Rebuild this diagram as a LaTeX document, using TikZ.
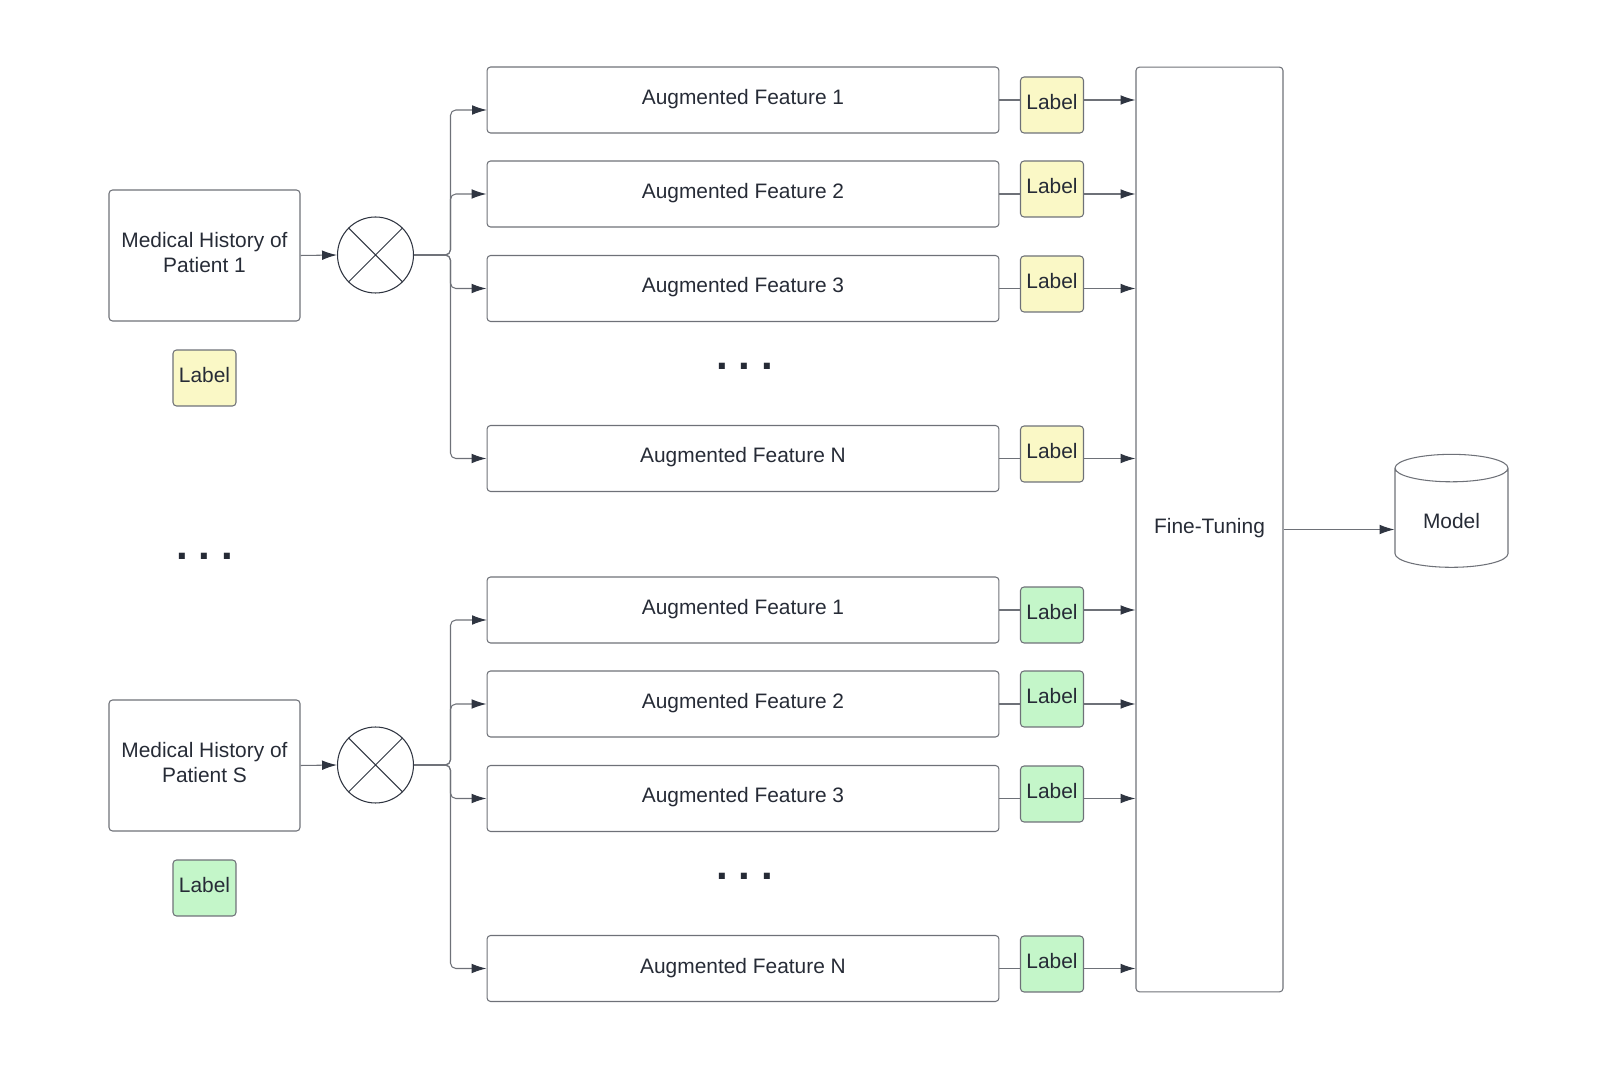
\documentclass[tikz,border=0pt]{standalone}
\usepackage{fontspec}
\setmainfont{Liberation Sans}
\usepackage{xcolor}
\usepackage{tikz}
\usetikzlibrary{
    positioning, % relative placement
    arrows.meta, % arrow tips
    shapes.geometric % cylinder
}
\definecolor{linec}{HTML}{6E7178}
\definecolor{tipc}{HTML}{2F3541}
\definecolor{textc}{HTML}{262B36}
\definecolor{yelc}{HTML}{FAF8C6}
\definecolor{grnc}{HTML}{C4F6C9}
\tikzset{
  >={Latex[length=8.5pt,width=5.5pt,color=tipc]},
  every path/.style={line width=0.6pt},
  box/.style={draw=linec, rounded corners=2pt, text=textc, align=center,
              text depth=0.35em, font=\fontsize{11.9}{14.5}\selectfont},
  histbox/.style={box, minimum width=3.82cm, minimum height=2.62cm},
  augbox/.style={box, minimum width=10.24cm, minimum height=1.32cm},
  tagbox/.style={box, minimum width=1.26cm, minimum height=1.12cm, inner sep=1pt},
  mixer/.style={circle, draw=tipc, minimum size=1.52cm},
  gap/.style={text=textc, font=\fontsize{24}{24}\bfseries\selectfont, inner sep=0pt},
  conn/.style={draw=linec, ->},
  branch/.style={conn, rounded corners=3pt}
}

\begin{document}
\begin{tikzpicture}[x=0.02cm, y=-0.02cm]
  \useasboundingbox (0,0) rectangle (1600,1070);

  % ===================== TRAINING SIDE =====================
  \node[box, minimum width=2.94cm, minimum height=18.5cm] (ft) at (1209.5,529.5) {Fine-Tuning};
  \node[cylinder, shape border rotate=90, aspect=0.4, draw=linec, text=textc,
        minimum width=2.26cm, minimum height=2.26cm,
        font=\fontsize{11.9}{14.5}\selectfont] (md) at (1451.5,521) {Model};
  \draw[conn] (ft.east) -- (ft.east -| md.west);

  % ===================== PATIENT 1 =====================
  \begin{scope}[shift={(0,0)}]
    % source record and its label
    \node[histbox] (p1) at (204.5,255.5) {Medical History of\\Patient 1};
    \node[tagbox, fill=yelc] (t1) at (204.5,378) {Label};
    \node[mixer] (m1) at (375.5,255) {};
    \draw[draw=tipc] (m1.45) -- (m1.225) (m1.135) -- (m1.315);
    \draw[conn] (p1.east) -- (m1.west);

    % augmented copies
    \node[augbox] (a1) at (743,100)   {Augmented Feature 1};
    \node[augbox] (a2) at (743,194)   {Augmented Feature 2};
    \node[augbox] (a3) at (743,288.5) {Augmented Feature 3};
    \node[augbox] (aN) at (743,458.5) {Augmented Feature N};
    \node[gap] (g1) at (744.5,366) {.\hspace{0.215cm}.\hspace{0.215cm}.};
    \coordinate (a1in) at (487,110); % first arrow enters a bit low

    \draw[branch] (m1.east) -- ++(36.5,0) |- (a1in);
    \draw[branch] (m1.east) -- ++(36.5,0) |- (a2.west);
    \draw[branch] (m1.east) -- ++(36.5,0) |- (a3.west);
    \draw[branch] (m1.east) -- ++(36.5,0) |- (aN.west);

    % into fine-tuning, labels sit on the lines
    \draw[conn] (a1.east) -- (a1.east -| ft.west);
    \draw[conn] (a2.east) -- (a2.east -| ft.west);
    \draw[conn] (a3.east) -- (a3.east -| ft.west);
    \draw[conn] (aN.east) -- (aN.east -| ft.west);
    \node[tagbox, fill=yelc] (l1) at (1052,105) {Label};
    \node[tagbox, fill=yelc] (l2) at (1052,189) {Label};
    \node[tagbox, fill=yelc] (l3) at (1052,284) {Label};
    \node[tagbox, fill=yelc] (lN) at (1052,454) {Label};
  \end{scope}

  % dots between patients
  \node[gap] (g0) at (204.5,556) {.\hspace{0.215cm}.\hspace{0.215cm}.};

  % ===================== PATIENT S =====================
  \begin{scope}[shift={(0,510)}]
    % source record and its label
    \node[histbox] (pS) at (204.5,255.5) {Medical History of\\Patient S};
    \node[tagbox, fill=grnc] (tS) at (204.5,378) {Label};
    \node[mixer] (mS) at (375.5,255) {};
    \draw[draw=tipc] (mS.45) -- (mS.225) (mS.135) -- (mS.315);
    \draw[conn] (pS.east) -- (mS.west);

    % augmented copies
    \node[augbox] (b1) at (743,100)   {Augmented Feature 1};
    \node[augbox] (b2) at (743,194)   {Augmented Feature 2};
    \node[augbox] (b3) at (743,288.5) {Augmented Feature 3};
    \node[augbox] (bN) at (743,458.5) {Augmented Feature N};
    \node[gap] (g2) at (744.5,366) {.\hspace{0.215cm}.\hspace{0.215cm}.};
    \coordinate (b1in) at (487,110); % first arrow enters a bit low

    \draw[branch] (mS.east) -- ++(36.5,0) |- (b1in);
    \draw[branch] (mS.east) -- ++(36.5,0) |- (b2.west);
    \draw[branch] (mS.east) -- ++(36.5,0) |- (b3.west);
    \draw[branch] (mS.east) -- ++(36.5,0) |- (bN.west);

    % into fine-tuning, labels sit on the lines
    \draw[conn] (b1.east) -- (b1.east -| ft.west);
    \draw[conn] (b2.east) -- (b2.east -| ft.west);
    \draw[conn] (b3.east) -- (b3.east -| ft.west);
    \draw[conn] (bN.east) -- (bN.east -| ft.west);
    \node[tagbox, fill=grnc] (k1) at (1052,105) {Label};
    \node[tagbox, fill=grnc] (k2) at (1052,189) {Label};
    \node[tagbox, fill=grnc] (k3) at (1052,284) {Label};
    \node[tagbox, fill=grnc] (kN) at (1052,454) {Label};
  \end{scope}
\end{tikzpicture}
\end{document}
